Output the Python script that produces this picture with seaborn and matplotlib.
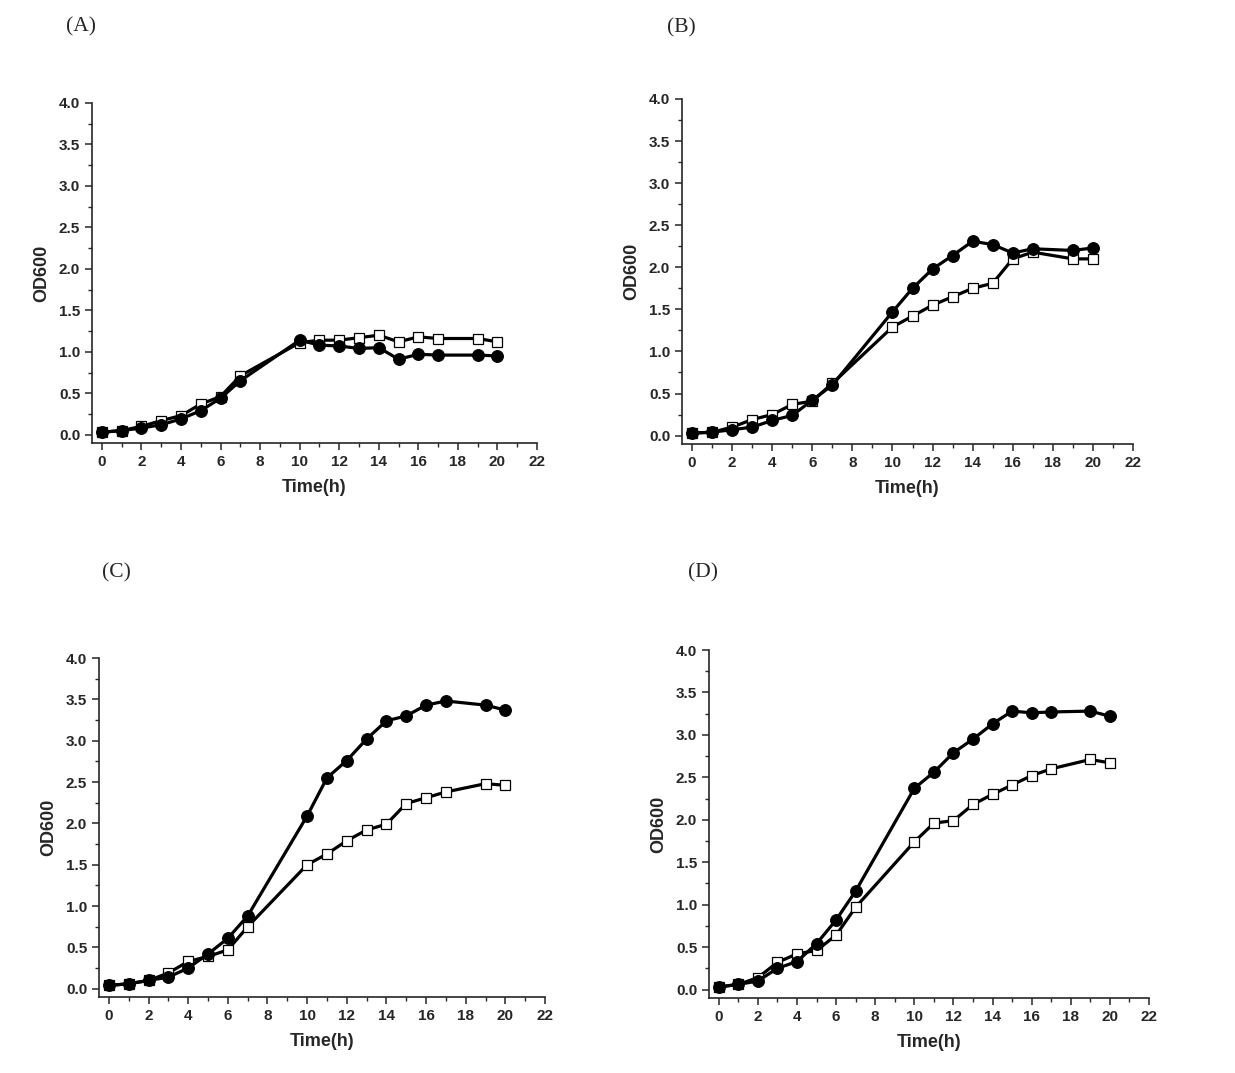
import numpy as np
import pandas as pd
import matplotlib
matplotlib.use("Agg")
import matplotlib.pyplot as plt
import seaborn as sns
from matplotlib.ticker import MultipleLocator

# time points (h)
time_h = [0, 1, 2, 3, 4, 5, 6, 7, 10, 11, 12, 13, 14, 15, 16, 17, 19, 20]

# (A)
a_circle = [0.03, 0.05, 0.08, 0.12, 0.19, 0.29, 0.44, 0.65, 1.14, 1.08, 1.07, 1.04, 1.05, 0.91, 0.97, 0.96, 0.96, 0.95]
a_square = [0.03, 0.05, 0.10, 0.17, 0.23, 0.37, 0.46, 0.71, 1.11, 1.14, 1.14, 1.17, 1.20, 1.12, 1.18, 1.16, 1.16, 1.12]
# (B)
b_circle = [0.03, 0.04, 0.07, 0.10, 0.18, 0.24, 0.42, 0.60, 1.47, 1.75, 1.98, 2.14, 2.31, 2.27, 2.17, 2.22, 2.20, 2.23]
b_square = [0.03, 0.04, 0.10, 0.19, 0.25, 0.37, 0.41, 0.62, 1.29, 1.42, 1.55, 1.65, 1.75, 1.81, 2.10, 2.18, 2.10, 2.10]
# (C)
c_circle = [0.04, 0.06, 0.10, 0.14, 0.25, 0.42, 0.61, 0.88, 2.09, 2.55, 2.76, 3.02, 3.24, 3.30, 3.43, 3.48, 3.43, 3.37]
c_square = [0.04, 0.06, 0.10, 0.19, 0.33, 0.39, 0.47, 0.75, 1.50, 1.63, 1.79, 1.92, 1.99, 2.24, 2.31, 2.38, 2.48, 2.46]
# (D)
d_circle = [0.03, 0.06, 0.10, 0.25, 0.33, 0.54, 0.82, 1.16, 2.37, 2.56, 2.79, 2.95, 3.13, 3.28, 3.26, 3.27, 3.28, 3.22]
d_square = [0.03, 0.06, 0.14, 0.32, 0.42, 0.46, 0.64, 0.97, 1.74, 1.96, 1.99, 2.18, 2.30, 2.41, 2.52, 2.60, 2.71, 2.67]

panel_labels = ["(A)", "(B)", "(C)", "(D)"]
x_ticks = list(range(0, 23, 2))
y_ticks = [0.0, 0.5, 1.0, 1.5, 2.0, 2.5, 3.0, 3.5, 4.0]

sns.set_style("ticks")
plt.rcParams['font.family'] = ['Liberation Sans', 'DejaVu Sans']

W, H = 1235, 1073
fig = plt.figure(figsize=(W / 100, H / 100), dpi=100)

# axes boxes in pixels: left, top, right, bottom
boxes = [(92, 103, 537, 443), (682, 99, 1133, 444), (99, 658, 545, 997), (709, 650, 1149, 998)]
label_pos = [(81, 27), (681, 28), (116, 573), (703, 573)]
series = [(a_circle, a_square), (b_circle, b_square), (c_circle, c_square), (d_circle, d_square)]

for (l, t, r, b), (cx, cy), lab, (circ, sq) in zip(boxes, label_pos, panel_labels, series):
    ax = fig.add_axes([l / W, 1 - b / H, (r - l) / W, (b - t) / H])
    df = pd.DataFrame({"Time": time_h, "circle": circ, "square": sq})
    sns.lineplot(data=df, x="Time", y="square", ax=ax, color="black", lw=2.3,
                 marker="s", markersize=7.5, markerfacecolor="white",
                 markeredgecolor="black", markeredgewidth=0.9, zorder=2)
    sns.lineplot(data=df, x="Time", y="circle", ax=ax, color="black", lw=2.3,
                 marker="o", markersize=8.5, markerfacecolor="black",
                 markeredgecolor="black", zorder=3)
    ax.set_xlim(-0.5, 22)
    ax.set_ylim(-0.1, 4.0)
    ax.set_xticks(x_ticks)
    ax.set_yticks(y_ticks)
    ax.set_yticklabels([f"{v:.1f}" for v in y_ticks])
    ax.xaxis.set_minor_locator(MultipleLocator(1))
    ax.yaxis.set_minor_locator(MultipleLocator(0.25))
    ax.tick_params(which="major", direction="out", length=5, width=1.1, labelsize=11)
    ax.tick_params(which="minor", direction="out", length=3, width=1.0)
    for t_ in ax.get_xticklabels() + ax.get_yticklabels():
        t_.set_fontweight("bold")
    sns.despine(ax=ax)
    for s in ["left", "bottom"]:
        ax.spines[s].set_linewidth(1.2)
    ax.set_xlabel("Time(h)", fontsize=13, fontweight="bold", labelpad=7)
    ax.set_ylabel("OD600", fontsize=13, fontweight="bold", labelpad=6)
    fig.text(cx / W, 1 - cy / H, lab, ha="center", va="center", fontsize=15.5,
             family=["Liberation Serif", "DejaVu Serif"])

fig.savefig("out.png", dpi=100)
